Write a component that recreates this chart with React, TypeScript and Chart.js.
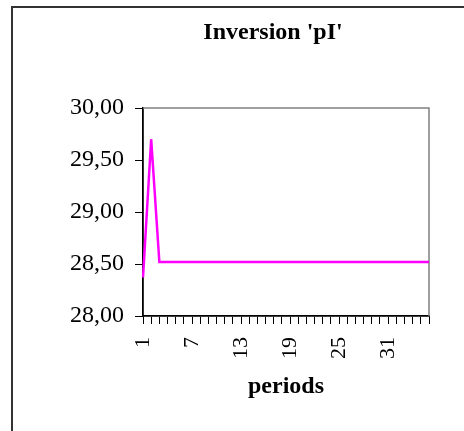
import React, { useEffect, useRef } from "react";
import { Chart, registerables } from "chart.js";

Chart.register(...registerables);

const periods: string[] = Array.from({ length: 36 }, (_, i) => String(i + 1));
const pIValues: number[] = [
  28.37, 29.70, 28.52, 28.52, 28.52, 28.52, 28.52, 28.52, 28.52, 28.52,
  28.52, 28.52, 28.52, 28.52, 28.52, 28.52, 28.52, 28.52, 28.52, 28.52,
  28.52, 28.52, 28.52, 28.52, 28.52, 28.52, 28.52, 28.52, 28.52, 28.52,
  28.52, 28.52, 28.52, 28.52, 28.52, 28.52,
];
const yMin = 28;
const yMax = 30;
const yStep = 0.5;
const titleText = "Inversion 'pI'";
const xTitleText = "periods";

const FONT = "'Liberation Serif', 'Times New Roman', serif";
const CANVAS_W = 546;
const CANVAS_H = 431;

const framePlugin = {
  id: "frame",
  beforeDraw(chart: any) {
    const ctx = chart.ctx;
    ctx.save();
    ctx.fillStyle = "#ffffff";
    ctx.fillRect(0, 0, chart.width, chart.height);
    ctx.strokeStyle = "#333333";
    ctx.lineWidth = 2;
    ctx.beginPath();
    ctx.moveTo(12, chart.height);
    ctx.lineTo(12, 7);
    ctx.lineTo(chart.width, 7);
    ctx.stroke();
    ctx.restore();
  },
  beforeDatasetsDraw(chart: any) {
    const { left, top, right, bottom } = chart.chartArea;
    const ctx = chart.ctx;
    ctx.save();
    ctx.strokeStyle = "#808080";
    ctx.lineWidth = 1.5;
    ctx.beginPath();
    ctx.moveTo(left, top);
    ctx.lineTo(right, top);
    ctx.lineTo(right, bottom);
    ctx.stroke();
    ctx.restore();
  },
};

export default function App() {
  const ref = useRef<HTMLCanvasElement | null>(null);

  useEffect(() => {
    if (!ref.current) return;
    const chart = new Chart(ref.current, {
      type: "line",
      data: {
        labels: periods,
        datasets: [
          {
            data: pIValues,
            borderColor: "#ff00ff",
            borderWidth: 2.5,
            pointRadius: 0,
            tension: 0,
            fill: false,
            yAxisID: "y",
          },
        ],
      },
      options: {
        animation: false,
        responsive: false,
        events: [],
        layout: { padding: { left: 0, right: 0, top: 18, bottom: 30 } },
        plugins: {
          legend: { display: false },
          tooltip: { enabled: false },
          title: {
            display: true,
            text: titleText,
            color: "#000",
            font: { family: FONT, size: 24, weight: "bold" },
            padding: { top: 0, bottom: 61.2 },
          },
        },
        scales: {
          x: {
            type: "category",
            offset: false,
            grid: {
              drawOnChartArea: false,
              drawTicks: true,
              tickLength: 8,
              color: "#000",
              lineWidth: 1,
            },
            border: { color: "#000", width: 1.8 },
            ticks: {
              autoSkip: false,
              minRotation: 90,
              maxRotation: 90,
              padding: 13,
              color: "#000",
              font: { family: FONT, size: 22 },
              callback: (_v: any, i: number) => (i % 6 === 0 ? periods[i] : ""),
            },
            title: {
              display: true,
              text: xTitleText,
              color: "#000",
              font: { family: FONT, size: 24, weight: "bold" },
              padding: { top: 0, bottom: 0 },
            },
            afterFit: (scale: any) => {
              scale.height = 85;
              scale.paddingLeft = 0;
              scale.paddingRight = 0;
            },
          },
          y: {
            position: "left",
            min: yMin,
            max: yMax,
            grid: {
              drawOnChartArea: false,
              drawTicks: true,
              tickLength: 8,
              color: "#000",
            },
            border: { color: "#000", width: 1.8 },
            ticks: {
              stepSize: yStep,
              padding: 11,
              color: "#000",
              font: { family: FONT, size: 24 },
              callback: (v: any) => Number(v).toFixed(2).replace(".", ","),
            },
            afterFit: (scale: any) => {
              scale.width = 143;
            },
          },
          yRightSpacer: {
            position: "right",
            display: true,
            grid: { display: false, drawTicks: false },
            border: { display: false },
            ticks: { display: false },
            afterFit: (scale: any) => {
              scale.width = CANVAS_W - 429;
              scale.paddingTop = 0;
              scale.paddingBottom = 0;
            },
          },
        },
      } as any,
      plugins: [framePlugin],
    });
    return () => chart.destroy();
  }, []);

  return (
    <div
      style={{
        position: "fixed",
        left: 0,
        top: 0,
        width: 464,
        height: 431,
        overflow: "hidden",
      }}
    >
      <canvas
        ref={ref}
        width={CANVAS_W}
        height={CANVAS_H}
        style={{ width: CANVAS_W, height: CANVAS_H, display: "block" }}
      />
    </div>
  );
}
